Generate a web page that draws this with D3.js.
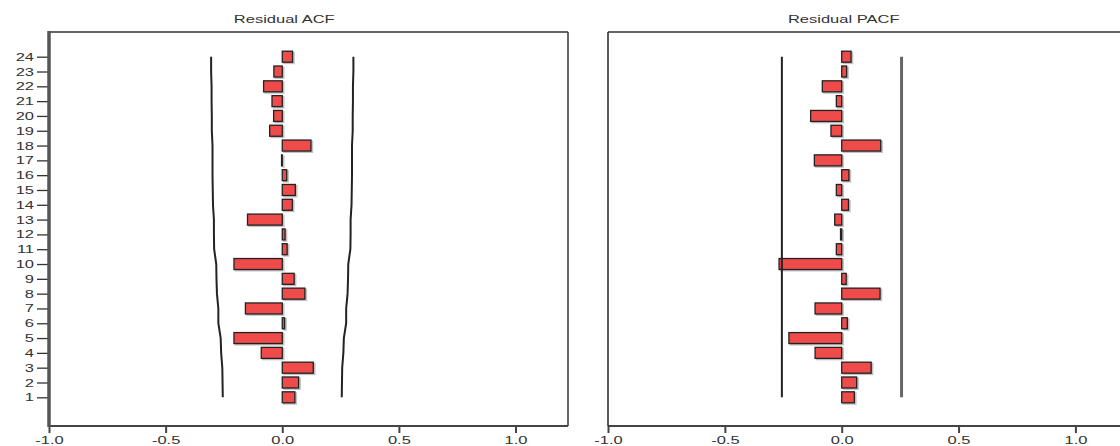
<!DOCTYPE html>
<html>
<head>
<meta charset="utf-8">
<script src="https://cdn.jsdelivr.net/npm/d3@7"></script>
<style>
  html, body { margin: 0; padding: 0; background: #fff; }
  svg { display: block; font-family: "Liberation Sans", Arial, sans-serif; }
</style>
</head>
<body>
<svg id="chart" width="1120" height="446"></svg>
<script>
// lags shown on the vertical axis
const lags = [1, 2, 3, 4, 5, 6, 7, 8, 9, 10, 11, 12, 13, 14, 15, 16, 17, 18, 19, 20, 21, 22, 23, 24]

// residual autocorrelations
const acf = [0.054, 0.070, 0.133, -0.090, -0.207, 0.010, -0.158, 0.097, 0.051, -0.207, 0.021, 0.012,
             -0.149, 0.043, 0.056, 0.019, -0.003, 0.123, -0.054, -0.037, -0.044, -0.080, -0.036, 0.044]

// residual partial autocorrelations
const pacf = [0.054, 0.064, 0.126, -0.114, -0.226, 0.024, -0.114, 0.164, 0.019, -0.268, -0.023, -0.005,
              -0.030, 0.029, -0.023, 0.031, -0.117, 0.167, -0.046, -0.133, -0.023, -0.083, 0.021, 0.040]

// upper confidence limit of the ACF at each lag (lower one is the mirror)
const acfLimit = [0.255, 0.256, 0.257, 0.262, 0.264, 0.274, 0.274, 0.280, 0.282, 0.283, 0.292, 0.293,
                  0.293, 0.297, 0.298, 0.299, 0.299, 0.299, 0.302, 0.302, 0.303, 0.303, 0.305, 0.305]
const pacfLimit = 0.256

const xTicks = [-1.0, -0.5, 0.0, 0.5, 1.0]
const titles = ["Residual ACF", "Residual PACF"]

const svg = d3.select("#chart")
const plotTop = 32
const plotBottom = 426
const stretch = 1.5   // the source image is squeezed wide, text looks stretched

const y = d3.scalePoint().domain(lags).range([397.3, 56.7])

function panel(x0, x1, title, values, limitLo, limitHi, showY, hiColor, hiWidth) {
    const x = d3.scaleLinear().domain([-1, 1.225]).range([x0, x1])
    const g = svg.append("g")

    // title
    g.append("text")
        .attr("transform", `translate(${x(0) + 2},23) scale(${stretch},1)`)
        .attr("text-anchor", "middle")
        .attr("font-size", 11)
        .attr("fill", "#333")
        .text(title)

    // frame
    g.append("line").attr("x1", x0).attr("x2", x1).attr("y1", plotTop).attr("y2", plotTop)
        .attr("stroke", "#333").attr("stroke-width", 1.5)
    g.append("line").attr("x1", x1).attr("x2", x1).attr("y1", plotTop).attr("y2", plotBottom)
        .attr("stroke", "#333").attr("stroke-width", 1.5)

    // bottom axis
    const xAxis = g.append("g")
        .attr("transform", `translate(0,${plotBottom})`)
        .call(d3.axisBottom(x).tickValues(xTicks).tickSize(7).tickSizeOuter(0).tickPadding(3)
            .tickFormat(d => d.toFixed(1)))
    xAxis.select(".domain").remove()
    xAxis.selectAll(".tick line").attr("stroke", "#444").attr("stroke-width", 2)
    xAxis.selectAll(".tick text")
        .attr("font-size", 11).attr("font-family", null).attr("fill", "#333")
        .attr("transform", `scale(${stretch},1)`)
    g.append("line").attr("x1", x0).attr("x2", x1).attr("y1", plotBottom).attr("y2", plotBottom)
        .attr("stroke", "#444").attr("stroke-width", 2)

    // left axis
    if (showY) {
        const yAxis = g.append("g")
            .attr("transform", `translate(${x0},0)`)
            .call(d3.axisLeft(y).tickSize(12).tickSizeOuter(0).tickPadding(3))
        yAxis.select(".domain").remove()
        yAxis.selectAll(".tick line").attr("stroke", "#333").attr("stroke-width", 1.3)
        yAxis.selectAll(".tick text")
            .attr("font-size", 11).attr("font-family", null).attr("fill", "#333")
            .attr("x", -15 / stretch)
            .attr("transform", `scale(${stretch},1)`)
        g.append("line").attr("x1", x0).attr("x2", x0).attr("y1", plotTop - 1).attr("y2", plotBottom + 1)
            .attr("stroke", "#555").attr("stroke-width", 3.5)
    } else {
        g.append("line").attr("x1", x0).attr("x2", x0).attr("y1", plotTop).attr("y2", plotBottom)
            .attr("stroke", "#222").attr("stroke-width", 1.5)
    }

    const barH = 11
    const rows = values.map((v, i) => ({ lag: lags[i], v: v }))

    // bar shadows
    g.append("g").selectAll("rect")
        .data(rows)
        .join("rect")
        .attr("x", d => Math.min(x(0), x(d.v)) + 1.5)
        .attr("y", d => y(d.lag) - barH / 2 + 1.2)
        .attr("width", d => Math.abs(x(d.v) - x(0)))
        .attr("height", barH)
        .attr("fill", "#999")
        .attr("stroke", "#999")
        .attr("stroke-width", 1.5)
        .attr("opacity", 0.6)

    // bars
    g.append("g").selectAll("rect")
        .data(rows)
        .join("rect")
        .attr("x", d => Math.min(x(0), x(d.v)))
        .attr("y", d => y(d.lag) - barH / 2)
        .attr("width", d => Math.abs(x(d.v) - x(0)))
        .attr("height", barH)
        .attr("fill", "#ef4b4b")
        .attr("stroke", "#222")
        .attr("stroke-width", 1.3)

    // confidence limits
    const line = d3.line().x(d => x(d.v)).y(d => y(d.lag))
    g.append("path")
        .attr("d", line(lags.map((l, i) => ({ lag: l, v: limitLo[i] }))))
        .attr("fill", "none").attr("stroke", "#222").attr("stroke-width", 2)
    g.append("path")
        .attr("d", line(lags.map((l, i) => ({ lag: l, v: limitHi[i] }))))
        .attr("fill", "none").attr("stroke", hiColor).attr("stroke-width", hiWidth)
}

panel(49, 568, titles[0], acf,
    acfLimit.map(v => -v), acfLimit, true, "#222", 2)
panel(608, 1128, titles[1], pacf,
    lags.map(() => -pacfLimit), lags.map(() => pacfLimit), false, "#666", 3)
</script>
</body>
</html>
